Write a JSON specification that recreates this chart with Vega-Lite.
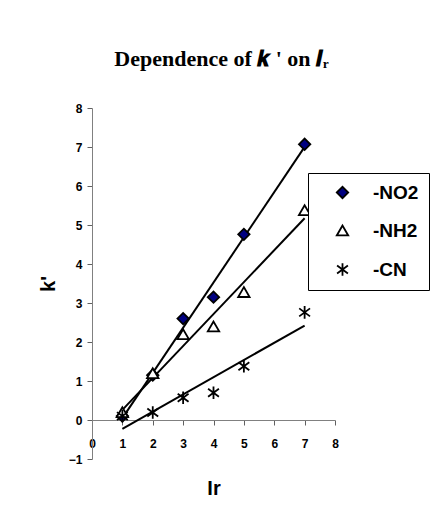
{
  "$schema": "https://vega.github.io/schema/vega-lite/v6.json",
  "width": 243,
  "height": 351,
  "autosize": "none",
  "padding": {"left": 92, "top": 108, "right": 99, "bottom": 69},
  "background": "white",
  "config": {
    "view": {"stroke": null},
    "legend": {
      "symbolStrokeWidth": 1.8,
      "symbolSize": 130
    }
  },
  "title": {
    "text": "Dependence of 𝒌 ' on 𝑰ᵣ",
    "font": "Liberation Serif",
    "fontSize": 22,
    "fontWeight": "bold",
    "color": "black",
    "anchor": "middle",
    "offset": 31,
    "dx": 8
  },
  "data": {
    "values": [
      {"series": "-NO2", "Ir": 1, "k": 0.1},
      {"series": "-NO2", "Ir": 2, "k": 1.15},
      {"series": "-NO2", "Ir": 3, "k": 2.6},
      {"series": "-NO2", "Ir": 4, "k": 3.15},
      {"series": "-NO2", "Ir": 5, "k": 4.76},
      {"series": "-NO2", "Ir": 7, "k": 7.07},
      {"series": "-NH2", "Ir": 1, "k": 0.2},
      {"series": "-NH2", "Ir": 2, "k": 1.2},
      {"series": "-NH2", "Ir": 3, "k": 2.2},
      {"series": "-NH2", "Ir": 4, "k": 2.4},
      {"series": "-NH2", "Ir": 5, "k": 3.28},
      {"series": "-NH2", "Ir": 7, "k": 5.38},
      {"series": "-CN", "Ir": 1, "k": 0.1},
      {"series": "-CN", "Ir": 2, "k": 0.19},
      {"series": "-CN", "Ir": 3, "k": 0.57},
      {"series": "-CN", "Ir": 4, "k": 0.7},
      {"series": "-CN", "Ir": 5, "k": 1.38},
      {"series": "-CN", "Ir": 7, "k": 2.76}
    ]
  },
  "encoding": {
    "x": {
      "field": "Ir",
      "type": "quantitative",
      "scale": {"domain": [0, 8], "nice": false, "zero": false},
      "axis": {
        "title": "Ir",
        "offset": -39,
        "values": [0, 1, 2, 3, 4, 5, 6, 7, 8],
        "grid": false,
        "domainColor": "#808080",
        "tickColor": "#606060",
        "tickSize": 5,
        "labelFont": "Liberation Sans",
        "labelFontSize": 12,
        "labelFontWeight": "bold",
        "labelColor": "black",
        "labelPadding": 13,
        "labelFlush": false,
        "labelOverlap": false,
        "titleFont": "Liberation Sans",
        "titleFontSize": 20,
        "titleFontWeight": "bold",
        "titleColor": "black",
        "titlePadding": 29
      }
    },
    "y": {
      "field": "k",
      "type": "quantitative",
      "scale": {"domain": [-1, 8], "nice": false, "zero": false},
      "axis": {
        "title": "k'",
        "values": [-1, 0, 1, 2, 3, 4, 5, 6, 7, 8],
        "grid": false,
        "domainColor": "#808080",
        "tickColor": "#606060",
        "tickSize": 5,
        "labelFont": "Liberation Sans",
        "labelFontSize": 12,
        "labelFontWeight": "bold",
        "labelColor": "black",
        "labelPadding": 5,
        "labelFlush": false,
        "labelOverlap": false,
        "titleFont": "Liberation Sans",
        "titleFontSize": 20,
        "titleFontWeight": "bold",
        "titleColor": "black",
        "titlePadding": 10
      }
    }
  },
  "layer": [
    {
      "transform": [{"regression": "k", "on": "Ir", "groupby": ["series"]}],
      "mark": {"type": "line", "color": "black", "strokeWidth": 2},
      "encoding": {"detail": {"field": "series", "type": "nominal"}}
    },
    {
      "mark": {"type": "point", "filled": true, "size": 130, "strokeWidth": 1.8, "opacity": 1},
      "encoding": {
        "shape": {
          "field": "series",
          "type": "nominal",
          "scale": {
            "domain": ["-NO2", "-NH2", "-CN"],
            "range": ["diamond", "triangle-up", "M0,-1.1L0,1.1M-0.95,-0.7L0.95,0.7M-0.95,0.7L0.95,-0.7"]
          },
          "legend": {
            "title": null,
            "orient": "none",
            "legendX": 216,
            "legendY": 65,
            "strokeColor": "black",
            "fillColor": "white",
            "padding": 10,
            "labelFont": "Liberation Sans",
            "labelFontSize": 19,
            "labelFontWeight": "bold",
            "labelColor": "black",
            "symbolOffset": 15,
            "labelOffset": 21,
            "rowPadding": 18
          }
        },
        "fill": {
          "field": "series",
          "type": "nominal",
          "scale": {"domain": ["-NO2", "-NH2", "-CN"], "range": ["#000080", "white", "black"]},
          "legend": {
            "title": null,
            "orient": "none",
            "legendX": 216,
            "legendY": 65,
            "strokeColor": "black",
            "fillColor": "white",
            "padding": 10,
            "labelFont": "Liberation Sans",
            "labelFontSize": 19,
            "labelFontWeight": "bold",
            "labelColor": "black",
            "symbolOffset": 15,
            "labelOffset": 21,
            "rowPadding": 18
          }
        },
        "stroke": {
          "field": "series",
          "type": "nominal",
          "scale": {"domain": ["-NO2", "-NH2", "-CN"], "range": ["black", "black", "black"]},
          "legend": {
            "title": null,
            "orient": "none",
            "legendX": 216,
            "legendY": 65,
            "strokeColor": "black",
            "fillColor": "white",
            "padding": 10,
            "labelFont": "Liberation Sans",
            "labelFontSize": 19,
            "labelFontWeight": "bold",
            "labelColor": "black",
            "symbolOffset": 15,
            "labelOffset": 21,
            "rowPadding": 18
          }
        }
      }
    }
  ]
}
